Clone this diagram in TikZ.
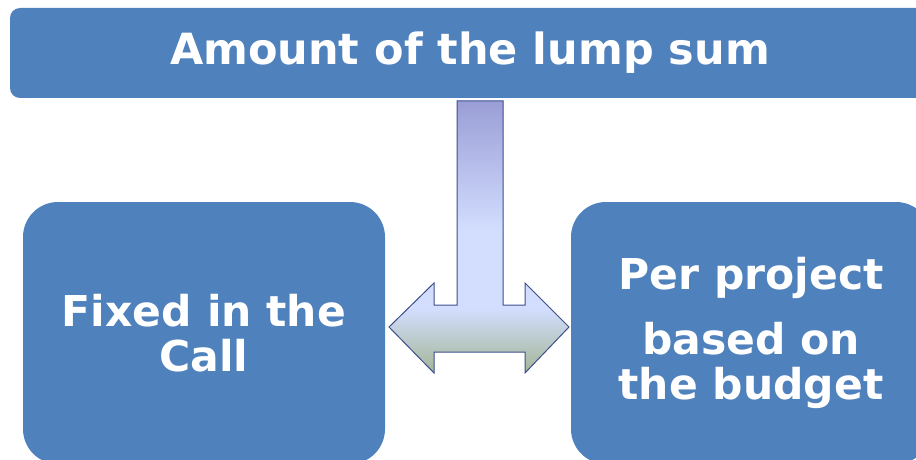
\documentclass[tikz,border=0pt]{standalone}
\usepackage{fontspec}
\setmainfont{DejaVu Sans}
\usetikzlibrary{positioning}
\definecolor{boxblue}{HTML}{4F81BD}
\definecolor{arrowtop}{HTML}{9A9ED6}
\definecolor{arrowmid}{HTML}{D3DEFF}
\definecolor{arrowbot}{HTML}{A3B696}
\definecolor{arrowline}{HTML}{3E4F8C}
\pgfdeclareverticalshading{tarrow}{100bp}{color(0bp)=(arrowbot); color(25bp)=(arrowbot); color(37bp)=(arrowmid); color(51bp)=(arrowmid); color(75bp)=(arrowtop); color(100bp)=(arrowtop)}
\tikzstyle{box} = [rectangle, fill=boxblue, text=white, align=center, font=\bfseries\fontsize{42.5}{45}\selectfont, inner sep=0pt]
\tikzstyle{title} = [box, minimum width=920pt, minimum height=90pt, rounded corners=10pt, font=\bfseries\fontsize{43}{48}\selectfont]
\tikzstyle{choice} = [box, minimum width=360pt, minimum height=262pt, rounded corners=35pt]
\tikzstyle{blockarrow} = [draw=arrowline, line width=1pt, shading=tarrow]

\begin{document}
\begin{tikzpicture}[x=1pt, y=1pt]
\useasboundingbox (0,0) rectangle (916,459);
\clip (0,0) rectangle (916,459);
\node (lumpsum) [title] at (470,406) {Amount of the lump sum};
\node (fixed) [choice, minimum width=362pt] at (204,126) {Fixed in the\\Call};
\node (perproject) [choice] at (751,126) {Per project\\[20pt]based on\\the budget};
% T-shaped double arrow between the two options
\shade [blockarrow] (457,358) -- (503,358) -- (503,154) -- (525,154) -- (525,176) -- (569,132)
  -- (525,86) -- (525,107) -- (434,107) -- (434,86) -- (389,132) -- (434,176) -- (434,154)
  -- (457,154) -- cycle;
\end{tikzpicture}
\end{document}
